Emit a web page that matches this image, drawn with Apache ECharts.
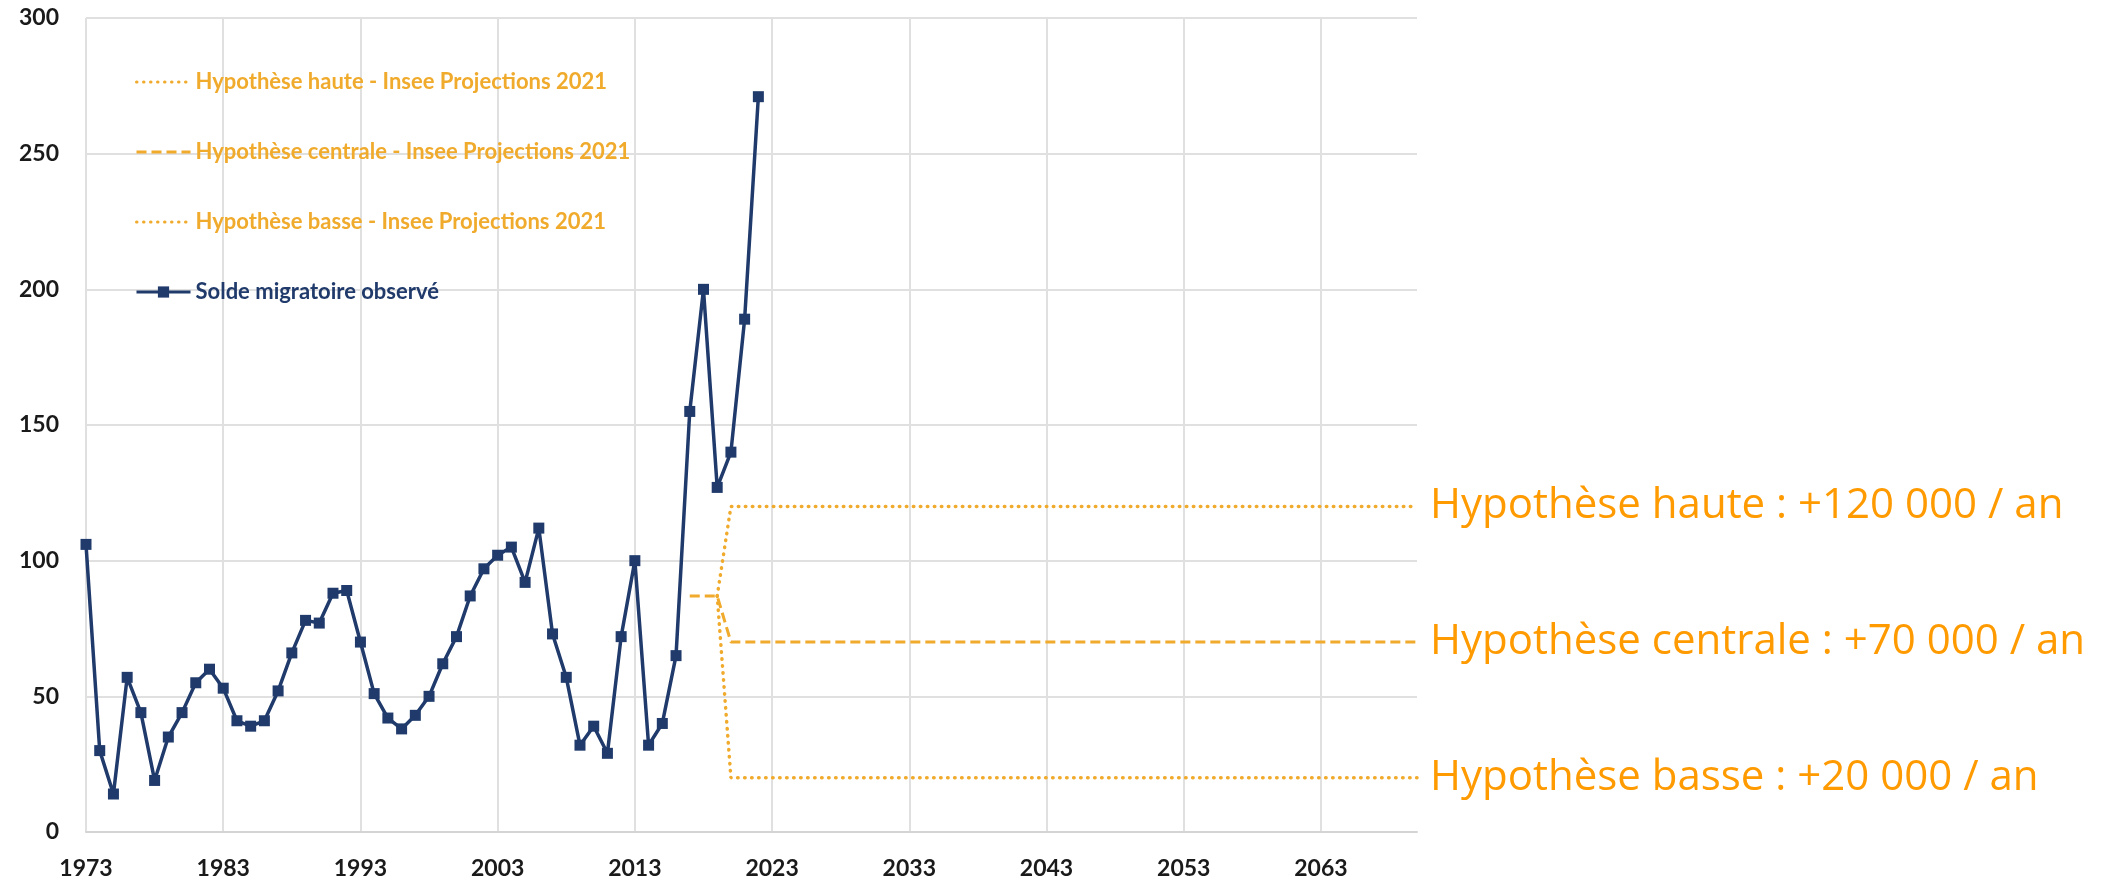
<!DOCTYPE html>
<html>
<head>
<meta charset="utf-8">
<script src="https://cdn.jsdelivr.net/npm/echarts@6/dist/echarts.min.js"></script>
<style>
  html, body { margin: 0; padding: 0; background: #fff; }
  #chart { width: 2119px; height: 882px; }
</style>
</head>
<body>
<div id="chart"></div>
<script>
// Solde migratoire observé (milliers), 1973-2022
const obsYears = [1973, 1974, 1975, 1976, 1977, 1978, 1979, 1980, 1981, 1982,
  1983, 1984, 1985, 1986, 1987, 1988, 1989, 1990, 1991, 1992,
  1993, 1994, 1995, 1996, 1997, 1998, 1999, 2000, 2001, 2002,
  2003, 2004, 2005, 2006, 2007, 2008, 2009, 2010, 2011, 2012,
  2013, 2014, 2015, 2016, 2017, 2018, 2019, 2020, 2021, 2022];
const obsValues = [106, 30, 14, 57, 44, 19, 35, 44, 55, 60,
  53, 41, 39, 41, 52, 66, 78, 77, 88, 89,
  70, 51, 42, 38, 43, 50, 62, 72, 87, 97,
  102, 105, 92, 112, 73, 57, 32, 39, 29, 72,
  100, 32, 40, 65, 155, 200, 127, 140, 189, 271];

// Hypothèses Insee Projections 2021
const hauteYears = [2019, 2020, 2070];
const hauteValues = [87, 120, 120];
const centraleYears = [2017, 2019, 2020, 2070];
const centraleValues = [87, 87, 70, 70];
const basseYears = [2019, 2020, 2070];
const basseValues = [87, 20, 20];

const legendNames = [
  'Hypothèse haute - Insee Projections 2021',
  'Hypothèse centrale - Insee Projections 2021',
  'Hypothèse basse - Insee Projections 2021',
  'Solde migratoire observé'
];
const endLabels = [
  'Hypothèse haute : +120 000 / an',
  'Hypothèse centrale : +70 000 / an',
  'Hypothèse basse : +20 000 / an'
];

const navy = '#1f3a6b';
const gold = '#f0aa2c';
const orange = '#ff9a00';

const pairs = (xs, ys) => xs.map((x, i) => [x, ys[i]]);

const chart = echarts.init(document.getElementById('chart'));

function projLabel(text) {
  return {
    show: true,
    formatter: text,
    color: orange,
    fontSize: 42,
    fontFamily: 'Open Sans',
    distance: 13
  };
}

const dotted = { color: gold, width: 3.5, type: [0.5, 6.5], cap: 'round' };

const option = {
  animation: false,
  grid: { left: 86, right: 702, top: 18, bottom: 50 },
  legend: {
    orient: 'vertical',
    left: 135,
    top: 71,
    padding: 0,
    itemWidth: 54,
    itemHeight: 14,
    itemGap: 48,
    lineStyle: { width: 3 },
    textStyle: { fontFamily: 'Lato', fontWeight: 'bold', fontSize: 22, lineHeight: 22 },
    data: [
      { name: legendNames[0], itemStyle: { opacity: 0 }, textStyle: { color: gold } },
      { name: legendNames[1], itemStyle: { opacity: 0 }, textStyle: { color: gold } },
      { name: legendNames[2], itemStyle: { opacity: 0 }, textStyle: { color: gold } },
      { name: legendNames[3], textStyle: { color: navy } }
    ]
  },
  xAxis: {
    type: 'value',
    min: 1973,
    max: 2070,
    interval: 10,
    axisLine: { show: true, lineStyle: { color: '#d4d4d4', width: 2 } },
    axisTick: { show: false },
    axisLabel: {
      margin: 25,
      showMaxLabel: false,
      color: '#1a1a1a',
      fontFamily: 'Lato',
      fontWeight: 'bold',
      fontSize: 23,
      formatter: v => String(v)
    },
    splitLine: { show: true, showMaxLine: false, lineStyle: { color: '#e0e0e0', width: 2 } }
  },
  yAxis: {
    type: 'value',
    min: 0,
    max: 300,
    interval: 50,
    axisLine: { show: false },
    axisTick: { show: false },
    axisLabel: {
      margin: 27,
      color: '#1a1a1a',
      fontFamily: 'Lato',
      fontWeight: 'bold',
      fontSize: 23
    },
    splitLine: { lineStyle: { color: '#e0e0e0', width: 2 } }
  },
  series: [
    {
      name: legendNames[0],
      type: 'line',
      data: pairs(hauteYears, hauteValues),
      symbol: 'none',
      itemStyle: { color: gold },
      lineStyle: dotted,
      endLabel: projLabel(endLabels[0])
    },
    {
      name: legendNames[1],
      type: 'line',
      data: pairs(centraleYears, centraleValues),
      symbol: 'none',
      itemStyle: { color: gold },
      lineStyle: { color: gold, width: 3, type: [10, 5] },
      endLabel: projLabel(endLabels[1])
    },
    {
      name: legendNames[2],
      type: 'line',
      data: pairs(basseYears, basseValues),
      symbol: 'none',
      itemStyle: { color: gold },
      lineStyle: dotted,
      endLabel: projLabel(endLabels[2])
    },
    {
      name: legendNames[3],
      type: 'line',
      data: pairs(obsYears, obsValues),
      symbol: 'rect',
      symbolSize: 11,
      z: 5,
      itemStyle: { color: navy },
      lineStyle: { color: navy, width: 3.5 }
    }
  ]
};

chart.setOption(option);
window.addEventListener('resize', () => chart.resize());
</script>
</body>
</html>
